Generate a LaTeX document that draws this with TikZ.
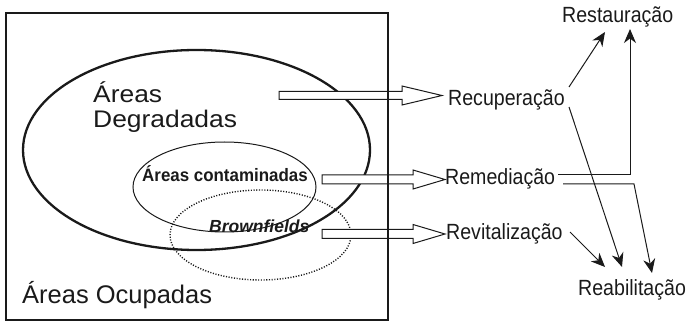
\documentclass[tikz,border=0pt]{standalone}
\usepackage{fontspec}
\setmainfont{Liberation Sans}
\newfontfamily\fwide{Liberation Sans}[FakeStretch=1.1]
\newfontfamily\fnarrow{Liberation Sans}[FakeStretch=0.89]
\newfontfamily\fbold{Liberation Sans Bold}[FakeStretch=0.94]
\usetikzlibrary{arrows.meta}
\definecolor{ink}{HTML}{1A1A1A}
\begin{document}
\begin{tikzpicture}[x=1pt,y=-1pt,
  lbl/.style={inner sep=0pt, anchor=base west, text=ink},
  rt/.style={lbl, font=\fnarrow\fontsize{22}{24}\selectfont},
  conn/.style={draw=ink, line width=1pt, -{Stealth[length=14pt,width=12pt,inset=4.5pt]}},
  blk/.style={draw=ink, fill=white, line width=1pt, line join=miter}]
\useasboundingbox (0,0) rectangle (688,323);
% ellipses
\draw[line width=2.3pt, draw=ink] (196.5,150) ellipse [x radius=173.5, y radius=100];
\draw[line width=1pt, draw=ink] (224.5,187) ellipse [x radius=91.5, y radius=45];
\draw[line width=1.4pt, draw=ink, dash pattern=on 1.1pt off 1.6pt] (260.5,235) ellipse [x radius=90.5, y radius=45];
% block arrows
\draw[blk] (279,91.5) -- (402,91.5) -- (402,86) -- (442,95.5) -- (402,105) -- (402,99.5) -- (279,99.5) -- cycle;
\draw[blk] (322,175) -- (413,175) -- (413,170) -- (445,179.5) -- (413,189) -- (413,184) -- (322,184) -- cycle;
\draw[blk] (322,229.5) -- (413,229.5) -- (413,224.5) -- (445,234) -- (413,243.5) -- (413,238.5) -- (322,238.5) -- cycle;
% frame
\draw[line width=1.3pt, draw=ink] (6,13) rectangle (388,320);
% texts
\node[lbl, font=\fwide\fontsize{24}{25}\selectfont] (degA) at (93,103) {Áreas};
\node[lbl, font=\fwide\fontsize{24}{25}\selectfont] (degB) at (93,128) {Degradadas};
\node[lbl, font=\fontsize{25.5}{27}\selectfont] (ocup) at (22,303) {Áreas Ocupadas};
\node[lbl, font=\fbold\fontsize{18}{20}\selectfont] (cont) at (142,182) {Áreas contaminadas};
\node[lbl, font=\bfseries\itshape\fontsize{17.5}{19}\selectfont] (brown) at (209,233) {Brownfields};
\node[rt] (rec) at (448,106) {Recuperação};
\node[rt] (rem) at (445,185) {Remediação};
\node[rt] (rev) at (446,240) {Revitalização};
\node[rt] (rest) at (562,23) {Restauração};
\node[rt] (reab) at (578,295) {Reabilitação};
% connector points
\coordinate (recNE) at ([xshift=121pt,yshift=19pt]rec.base west);
\coordinate (recSE) at ([xshift=121pt,yshift=-1pt]rec.base west);
\coordinate (remA) at ([xshift=113pt,yshift=10pt]rem.base west);
\coordinate (remB) at ([xshift=118pt,yshift=1pt]rem.base west);
\coordinate (remBend) at ([xshift=189pt,yshift=1pt]rem.base west);
\coordinate (revE) at ([xshift=124pt,yshift=8pt]rev.base west);
\coordinate (restA) at ([xshift=43pt,yshift=-9pt]rest.base west);
\coordinate (restB) at ([xshift=68pt,yshift=-6pt]rest.base west);
\coordinate (reabA) at ([xshift=27pt,yshift=28pt]reab.base west);
\coordinate (reabB) at ([xshift=44pt,yshift=28pt]reab.base west);
\coordinate (reabC) at ([xshift=74pt,yshift=22pt]reab.base west);
% connectors
\draw[conn] (recNE) -- (restA);
\draw[conn] (recSE) -- (reabB);
\draw[conn] (remA) -| (restB);
\draw[conn] (remB) -- (remBend) -- (reabC);
\draw[conn] (revE) -- (reabA);
\end{tikzpicture}
\end{document}
